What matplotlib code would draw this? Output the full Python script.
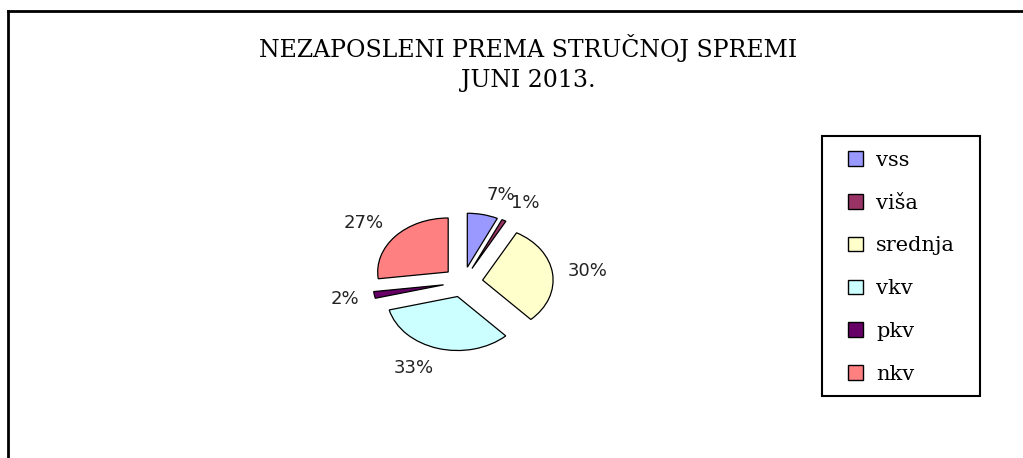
import matplotlib.pyplot as plt
from matplotlib.patches import Patch, Rectangle

kategorije = ["vss", "viša", "srednja", "vkv", "pkv", "nkv"]
procenti = [7, 1, 30, 33, 2, 27]
boje = ["#9999FF", "#993366", "#FFFFCC", "#CCFFFF", "#660066", "#FF8080"]
naslov = "NEZAPOSLENI PREMA STRUČNOJ SPREMI\nJUNI 2013."

FW, FH = 1023, 458
fig = plt.figure(figsize=(FW / 100, FH / 100), dpi=100)

# okvir slike (gore i lijevo)
fig.add_artist(plt.Line2D([8 / FW, 8 / FW], [0, 1 - 11 / FH], color="black", lw=2))
fig.add_artist(plt.Line2D([8 / FW, 1], [1 - 11 / FH, 1 - 11 / FH], color="black", lw=2))

fig.text(528 / FW, 1 - 63 / FH, naslov, ha="center", va="center",
         family="DejaVu Serif", fontsize=17, linespacing=1.37)

# pita - spljostena elipsa, centar oko (463, 282)
cx, cy = 463, 282
W, H = 282, 216
ax = fig.add_axes([(cx - W / 2) / FW, (FH - cy - H / 2) / FH, W / FW, H / FH])
wedges, texts = ax.pie(procenti, labels=[f"{p}%" for p in procenti], colors=boje,
                       startangle=90, counterclock=False, explode=[0.28] * len(procenti),
                       labeldistance=1.22,
                       wedgeprops=dict(edgecolor="black", linewidth=0.9),
                       textprops=dict(fontsize=13, family="DejaVu Sans", color="#222222"))
for t in texts:
    x, y = t.get_position()
    t.set_position((x, y * 1.1))
ax.set_aspect("auto")
ax.set_xlim(-2, 2)
ax.set_ylim(-2, 2)
ax.axis("off")

# legenda s posebnim okvirom
fig.add_artist(Rectangle((822 / FW, 1 - 396 / FH), 158 / FW, 260 / FH, transform=fig.transFigure,
                         facecolor="white", edgecolor="black", linewidth=1.5))
rucke = [Patch(facecolor=b, edgecolor="black", label=k) for b, k in zip(boje, kategorije)]
leg = fig.legend(handles=rucke, loc="upper left", bbox_to_anchor=(848 / FW, 1 - 151 / FH),
                 frameon=False, prop=dict(family="DejaVu Serif", size=15),
                 handlelength=0.7, handleheight=0.7, handletextpad=0.65, labelspacing=1.14,
                 borderpad=0, borderaxespad=0)

fig.savefig("out.png", dpi=100)
